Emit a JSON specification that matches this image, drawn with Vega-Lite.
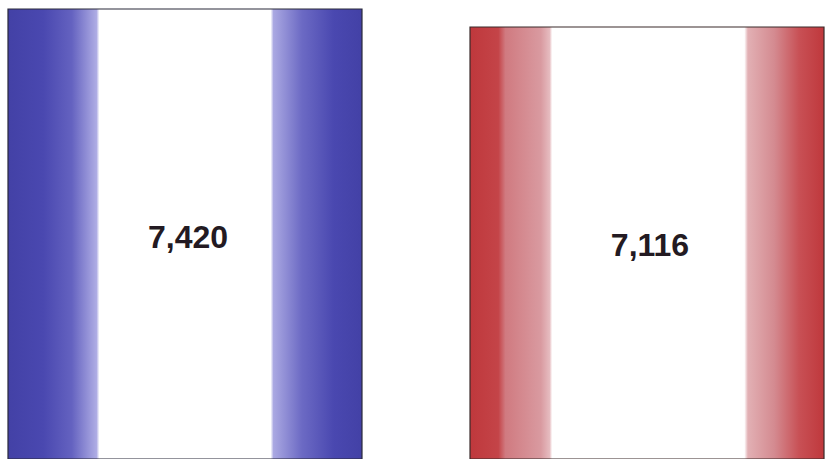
{
  "$schema": "https://vega.github.io/schema/vega-lite/v6.json",
  "width": 827,
  "height": 459,
  "autosize": {"type": "fit", "contains": "padding"},
  "padding": 0,
  "background": "#ffffff",
  "config": {"view": {"stroke": null}},
  "data": {"values": [
    {"group": "A", "value": 7420},
    {"group": "B", "value": 7116}
  ]},
  "encoding": {
    "x": {"field": "group", "type": "nominal", "axis": null,
          "scale": {"range": [0, 832], "paddingInner": 0.2338, "paddingOuter": 0.0173}}
  },
  "layer": [
    {
      "encoding": {
        "y": {"field": "value", "type": "quantitative", "axis": null,
              "scale": {"domain": [-180, 7572], "nice": false, "zero": false}}
      },
      "layer": [
        {
          "transform": [{"filter": "datum.group === 'A'"}],
          "mark": {"type": "bar", "stroke": "#2a2a3a", "strokeWidth": 1.2, "clip": true,
            "fill": {"gradient": "linear", "x1": 0, "x2": 1, "y1": 0, "y2": 0, "stops": [
              {"offset": 0, "color": "#4341a6"},
              {"offset": 0.1, "color": "#4a48b0"},
              {"offset": 0.18, "color": "#6462c0"},
              {"offset": 0.25, "color": "#aeace4"},
              {"offset": 0.258, "color": "#ffffff"},
              {"offset": 0.742, "color": "#ffffff"},
              {"offset": 0.75, "color": "#aaa8e2"},
              {"offset": 0.83, "color": "#6c6ac4"},
              {"offset": 0.92, "color": "#4a48b0"},
              {"offset": 1, "color": "#4341a6"}
            ]}},
          "encoding": {"y2": {"datum": -180}}
        },
        {
          "transform": [{"filter": "datum.group === 'B'"}],
          "mark": {"type": "bar", "stroke": "#3a2a2a", "strokeWidth": 1.2, "clip": true,
            "fill": {"gradient": "linear", "x1": 0, "x2": 1, "y1": 0, "y2": 0, "stops": [
              {"offset": 0, "color": "#bf383c"},
              {"offset": 0.08, "color": "#c44448"},
              {"offset": 0.1, "color": "#d07a80"},
              {"offset": 0.2, "color": "#d99aa0"},
              {"offset": 0.225, "color": "#e6bcc0"},
              {"offset": 0.232, "color": "#ffffff"},
              {"offset": 0.775, "color": "#ffffff"},
              {"offset": 0.785, "color": "#e2b0b4"},
              {"offset": 0.86, "color": "#d48a90"},
              {"offset": 0.93, "color": "#c85055"},
              {"offset": 1, "color": "#bf383c"}
            ]}},
          "encoding": {"y2": {"datum": -180}}
        }
      ]
    },
    {
      "mark": {"type": "text", "font": "Liberation Sans", "fontWeight": "bold", "fontSize": 32,
               "color": "#231a22", "dx": 3, "baseline": "middle"},
      "encoding": {
        "y": {"field": "value", "type": "quantitative", "axis": null,
              "scale": {"domain": [-983, 16464], "nice": false, "zero": false}},
        "text": {"field": "value", "type": "quantitative", "format": ","}
      }
    }
  ],
  "resolve": {"scale": {"y": "independent"}}
}
